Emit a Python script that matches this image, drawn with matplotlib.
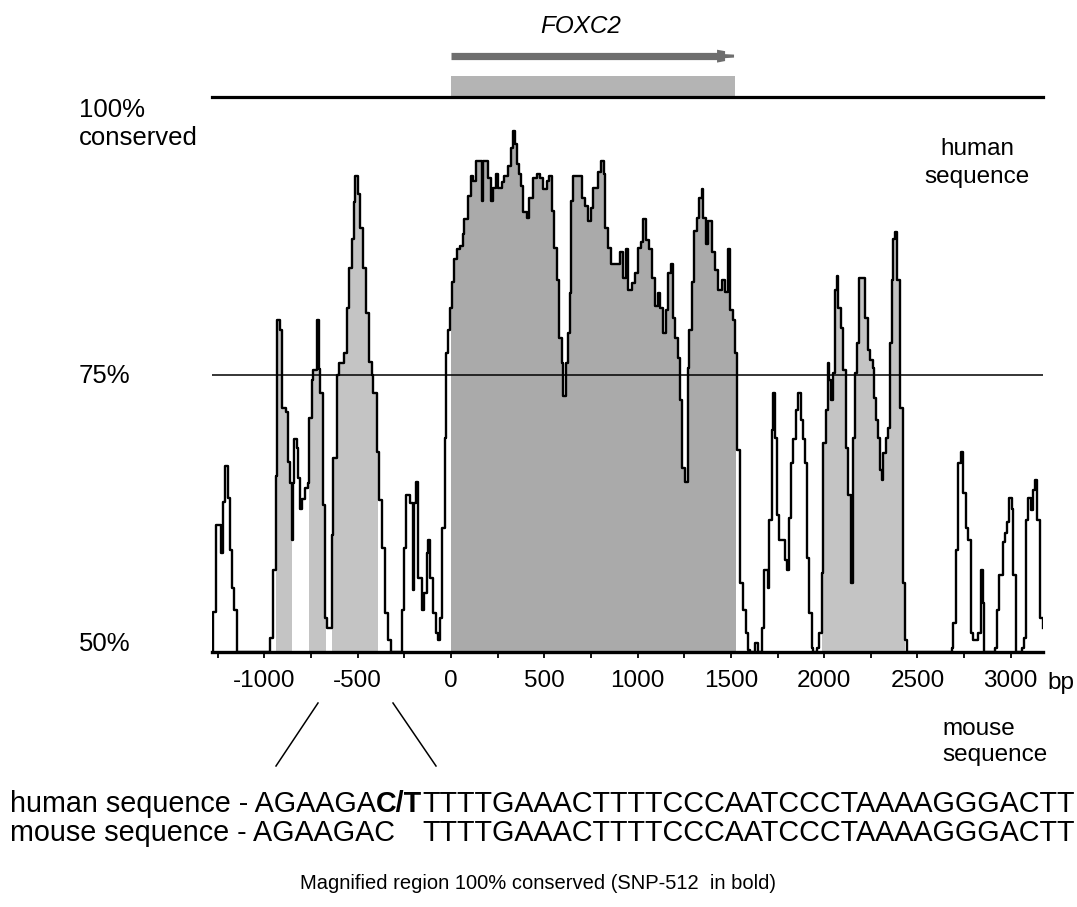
import numpy as np
import matplotlib
matplotlib.use('Agg')
import matplotlib.pyplot as plt
from matplotlib import font_manager
from matplotlib.lines import Line2D
from matplotlib.patches import Polygon, Rectangle

# conservation profile (human vs mouse), step curve: position in bp, % identity
pos_bp = [-1281, -1276, -1260, -1233, -1222, -1209, -1195, -1185, -1174, -1163, -1147,
          -970, -952, -938, -934, -917, -907, -904, -884, -875, -863, -854, -847, -840,
          -827, -818, -809, -800, -783, -765, -760, -747, -738, -720, -706, -702, -688,
          -675, -666, -639, -631, -613, -599, -574, -559, -547, -532, -520, -513, -497,
          -488, -473, -457, -438, -425, -420, -398, -386, -371, -354, -336, -323,
          -264, -252, -241, -220, -202, -196, -188, -175, -157, -145, -130, -122, -113,
          -95, -80, -68, -59, -50, -32, -27, -18, -5, 7, 18, 31, 48, 63, 71, 93, 107,
          120, 134, 165, 169, 200, 213, 227, 241, 250, 272, 284, 307, 322, 334, 343, 352,
          364, 375, 388, 406, 420, 438, 459, 477, 495, 513, 527, 540, 552, 567, 580, 593,
          602, 615, 625, 638, 643, 656, 704, 718, 736, 749, 763, 790, 804, 820, 825, 843,
          856, 906, 920, 938, 950, 969, 986, 1004, 1017, 1031, 1045, 1063, 1076, 1093,
          1111, 1120, 1138, 1151, 1165, 1178, 1188, 1201, 1215, 1227, 1237, 1254, 1269,
          1277, 1290, 1302, 1317, 1331, 1344, 1352, 1367, 1379, 1397, 1415, 1433, 1451,
          1469, 1486, 1495, 1510, 1522, 1531, 1549, 1567, 1581, 1594, 1603, 1629, 1647,
          1665, 1679, 1697, 1706, 1719, 1727, 1737, 1749, 1760, 1790, 1803, 1813, 1822,
          1835, 1849, 1862, 1874, 1885, 1897, 1910, 1920, 1933, 1942,
          1960, 1974, 1987, 1996, 2010, 2019, 2028, 2037, 2046, 2058, 2067, 2076, 2089,
          2103, 2117, 2130, 2142, 2156, 2165, 2178, 2188, 2220, 2233, 2246, 2260, 2267,
          2278, 2287, 2299, 2308, 2317, 2330, 2344, 2353, 2362, 2371, 2380, 2389, 2407,
          2421, 2433, 2446,
          2684, 2692, 2707, 2719, 2732, 2746, 2760, 2773, 2786, 2800, 2827, 2839, 2850, 2857,
          2916, 2925, 2939, 2957, 2969, 2978, 2992, 3005, 3014, 3027,
          3059, 3071, 3082, 3094, 3107, 3121, 3130, 3143, 3157, 3173]
cons_pct = [50.0, 53.6, 61.4, 58.9, 63.5, 66.8, 63.9, 59.2, 55.8, 53.8, 50.0,
            51.3, 57.4, 65.9, 79.9, 79.0, 75.5, 72.0, 71.6, 67.1, 65.2, 60.1, 65.2, 69.2,
            68.4, 65.7, 62.9, 63.8, 64.8, 65.2, 71.1, 74.5, 75.4, 79.9, 75.5, 73.3, 63.2,
            53.1, 52.2, 60.5, 67.5, 75.0, 76.0, 76.9, 81.0, 84.6, 87.2, 90.5, 92.9, 91.3,
            88.2, 84.6, 80.5, 76.1, 75.0, 73.3, 68.0, 63.7, 59.4, 53.5, 51.1, 50.0,
            53.8, 59.4, 64.1, 63.4, 55.6, 63.4, 65.3, 56.7, 53.8, 55.3, 58.9, 60.1, 56.7,
            53.5, 51.7, 51.1, 53.1, 61.2, 69.3, 76.9, 79.0, 81.0, 83.3, 85.4, 86.3, 86.6,
            87.7, 89.0, 91.1, 92.9, 92.4, 94.2, 90.6, 94.2, 92.7, 90.6, 91.8, 93.1, 91.8,
            92.3, 92.9, 93.8, 95.4, 96.9, 95.8, 94.0, 93.1, 92.0, 89.6, 89.1, 90.9, 92.7,
            93.1, 92.7, 91.7, 92.4, 92.9, 89.7, 86.4, 83.5, 78.3, 76.0, 73.1, 76.0, 78.7,
            82.3, 90.6, 92.9, 90.9, 90.2, 88.8, 90.0, 91.8, 93.2, 94.2, 93.1, 88.2, 86.4,
            85.0, 86.0, 83.7, 86.3, 82.6, 83.2, 84.1, 86.4, 86.9, 89.0, 87.1, 86.3, 83.7,
            81.2, 82.3, 81.0, 78.7, 80.8, 84.1, 85.0, 80.1, 78.3, 76.5, 72.7, 66.6, 65.3,
            75.6, 79.0, 83.3, 87.9, 89.1, 90.9, 91.7, 89.1, 86.8, 88.8, 86.0, 84.4, 82.6,
            83.5, 82.4, 86.3, 80.8, 79.9, 76.9, 68.2, 56.2, 53.8, 51.7, 50.2, 50.0, 50.8, 50.0,
            52.2, 57.4, 55.8, 61.9, 70.0, 73.3, 69.3, 62.3, 60.1, 58.3, 57.4, 62.1, 67.0,
            69.2, 71.8, 73.3, 70.9, 69.2, 67.0, 58.5, 53.5, 50.4, 50.0,
            50.4, 51.7, 57.1, 68.8, 71.8, 76.0, 74.5, 72.7, 75.1, 82.6, 83.9, 81.0, 79.2,
            75.4, 68.4, 64.1, 56.2, 69.3, 75.1, 77.8, 83.7, 80.1, 77.2, 76.3, 75.6, 72.9,
            70.9, 69.3, 66.4, 65.5, 67.9, 69.3, 70.2, 77.8, 83.5, 87.2, 87.8, 83.5, 72.0,
            56.2, 51.1, 50.0,
            50.4, 52.6, 59.2, 67.0, 68.0, 64.3, 61.2, 60.1, 51.7, 51.1, 51.7, 57.4, 54.4, 50.0,
            50.4, 53.8, 56.9, 59.9, 60.7, 61.7, 63.9, 62.9, 56.9, 50.0,
            50.4, 51.3, 61.9, 63.9, 62.8, 64.6, 65.5, 61.9, 53.1, 52.2]

# conserved non-coding regions and the FOXC2 exon (bp)
cns_regions = [(-938, -852), (-761, -670), (-638, -391), (1989, 2433)]
exon_region = (0, 1528)
gene_start, gene_end = 0, 1520

tick_pos = list(range(-1250, 3001, 250))
tick_lab = [str(t) if t % 500 == 0 else '' for t in tick_pos]

human_parts = [('human sequence - AGAAGA', 'normal'), ('C/T', 'bold'),
               ('TTTTGAAACTTTTCCCAATCCCTAAAAGGGACTT', 'normal')]
mouse_head = 'mouse sequence - AGAAGAC'
caption = 'Magnified region 100% conserved (SNP-512  in bold)'

W, H = 1077, 907


def fx(px):
    return px / W


def fy(py):
    return 1 - py / H


plt.rcParams['font.family'] = ['Liberation Sans', 'DejaVu Sans']
names = {f.name for f in font_manager.fontManager.ttflist}
seq_font = 'Liberation Sans Narrow' if 'Liberation Sans Narrow' in names else 'Liberation Sans'

fig = plt.figure(figsize=(W / 100, H / 100), dpi=100)
fig.patch.set_facecolor('white')
ax = fig.add_axes([fx(212), fy(652), (1043 - 212) / W, (652 - 97) / H])
ax.set_xlim(-1281, 3173)
ax.set_ylim(50, 100)

x = np.array(pos_bp, dtype=float)
y = np.array(cons_pct)


def fill_region(a, b, color):
    i0 = np.searchsorted(x, a, side='right') - 1
    inside = (x > a) & (x < b)
    xs = np.concatenate([[a], x[inside], [b]])
    ys_in = y[inside]
    last = ys_in[-1] if len(ys_in) else y[i0]
    ys = np.concatenate([[y[i0]], ys_in, [last]])
    ax.fill_between(xs, 50, ys, step='post', color=color, lw=0, zorder=1)


for a, b in cns_regions:
    fill_region(a, b, '#c4c4c4')
fill_region(exon_region[0], exon_region[1], '#aaaaaa')

ax.plot(x, y, drawstyle='steps-post', color='black', lw=1.7, zorder=3)

ax.axhline(100, color='black', lw=2.3, clip_on=False, zorder=2)
ax.axhline(75, color='black', lw=1.1, zorder=2)
ax.axhline(50, color='black', lw=2.4, clip_on=False, zorder=4)

# gene track
ax.add_patch(Rectangle((gene_start, 100.1), gene_end - gene_start, 1.8,
                       color='#b4b4b4', lw=0, clip_on=False))
ax.plot([gene_start, 1440], [103.67, 103.67], color='#6e6e6e', lw=5.2,
        solid_capstyle='butt', clip_on=False)
head = [(1426, 104.26), (1469, 104.13), (1469, 103.86), (1517, 103.82),
        (1517, 103.55), (1469, 103.50), (1469, 103.24), (1426, 103.10)]
ax.add_patch(Polygon(head, closed=True, color='#6e6e6e', lw=0, clip_on=False))
fig.text(fx(581), fy(33), 'FOXC2', fontsize=17.5, style='italic',
         ha='center', va='baseline')

for s in ax.spines.values():
    s.set_visible(False)
ax.set_yticks([])
ax.set_xticks(tick_pos)
ax.set_xticklabels(tick_lab)
ax.tick_params(axis='x', direction='out', length=4.3, width=1.3, pad=9,
               labelsize=17.5)
fig.text(fx(1047), fy(689), 'bp', fontsize=17.5, ha='left', va='baseline')

# left and right labels
fig.text(fx(79), fy(117), '100%', fontsize=18.5, va='baseline')
fig.text(fx(79), fy(145), 'conserved', fontsize=18.5, va='baseline')
fig.text(fx(79), fy(383), '75%', fontsize=18.5, va='baseline')
fig.text(fx(79), fy(651), '50%', fontsize=18.5, va='baseline')
fig.text(fx(977), fy(155), 'human', fontsize=17.5, ha='center', va='baseline')
fig.text(fx(977), fy(183), 'sequence', fontsize=17.5, ha='center', va='baseline')
fig.text(fx(942), fy(735), 'mouse', fontsize=17.5, ha='left', va='baseline')
fig.text(fx(942), fy(761), 'sequence', fontsize=17.5, ha='left', va='baseline')

# zoom lines down to the magnified sequence
fig.add_artist(Line2D([fx(318), fx(276)], [fy(703), fy(766)], color='black', lw=1.1))
fig.add_artist(Line2D([fx(393), fx(436)], [fy(703), fy(766)], color='black', lw=1.1))

# sequence lines, laid out piece by piece
renderer = fig.canvas.get_renderer()


def place_line(parts, x0, base, size):
    texts, starts = [], []
    cur = x0
    for s, w in parts:
        t = fig.text(fx(cur), fy(base), s, fontsize=size, fontweight=w,
                     family=[seq_font, 'DejaVu Sans'], ha='left', va='baseline')
        starts.append(cur)
        cur = t.get_window_extent(renderer=renderer).x1
        texts.append(t)
    return texts, starts, cur


size = 20.0
texts, starts, right = place_line(human_parts, 10, 812, size)
for t in texts:
    t.remove()
size = size * (1075 - 10) / (right - 10)
texts, starts, right = place_line(human_parts, 10, 812, size)
fig.text(fx(10), fy(841), mouse_head, fontsize=size, family=[seq_font, 'DejaVu Sans'],
         ha='left', va='baseline')
fig.text(fx(starts[2]), fy(841), human_parts[2][0], fontsize=size,
         family=[seq_font, 'DejaVu Sans'], ha='left', va='baseline')

fig.text(fx(538), fy(889), caption, fontsize=14.5, ha='center', va='baseline')

fig.savefig('out.png', dpi=100, facecolor='white')
